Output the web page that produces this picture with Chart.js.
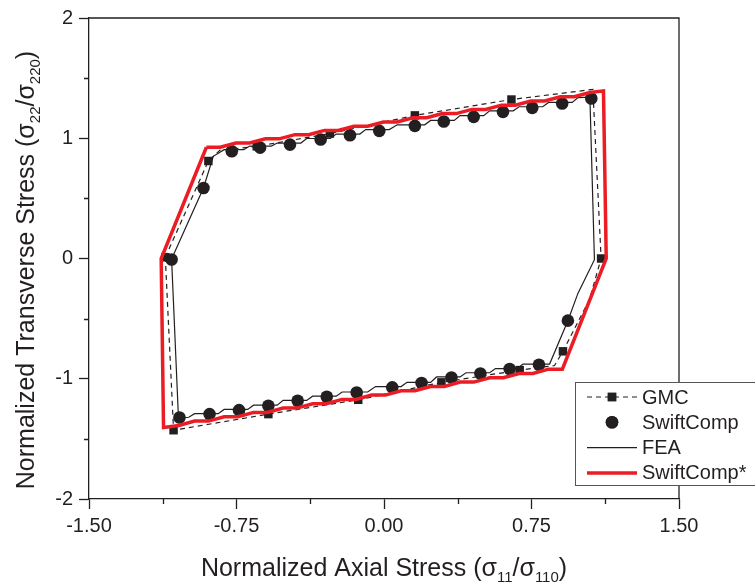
<!DOCTYPE html>
<html>
<head>
<meta charset="utf-8">
<script src="https://cdn.jsdelivr.net/npm/chart.js@4/dist/chart.umd.min.js"></script>
<style>
  html, body { margin: 0; padding: 0; background: #fff; }
  #wrap { width: 755px; height: 586px; }
</style>
</head>
<body>
<div id="wrap"><canvas id="c" width="755" height="586"></canvas></div>
<script>
// ---- Axis ticks ----
const xMajorTicks = [-1.5, -0.75, 0, 0.75, 1.5];
const xMinorTicks = [-1.125, -0.375, 0.375, 1.125];
const yMajorTicks = [-2, -1, 0, 1, 2];
const yMinorTicks = [-1.5, -0.5, 0.5, 1.5];

// ---- GMC: dashed loop (path) and its square markers ----
const gmcPathX = [-1.112, -0.893, -0.835, -0.647, -0.275, 0.157, 0.648, 1.062, 1.104, 1.045, 0.910, 0.867, 0.690, 0.292, -0.131, -0.588, -1.070, -1.112];
const gmcPathY = [0.010, 0.811, 0.900, 0.933, 1.039, 1.190, 1.322, 1.406, 0.000, -0.340, -0.772, -0.890, -0.928, -1.030, -1.175, -1.294, -1.428, 0.010];
const gmcMarkX = [-1.112, -0.893, -0.647, -0.275, 0.157, 0.648, 1.104, 0.910, 0.690, 0.292, -0.131, -0.588, -1.070];
const gmcMarkY = [0.010, 0.811, 0.933, 1.039, 1.190, 1.322, 0.000, -0.772, -0.928, -1.030, -1.175, -1.294, -1.428];

// ---- SwiftComp: filled circles ----
const swiftX = [-1.080, -0.918, -0.774, -0.630, -0.478, -0.322, -0.173, -0.024, 0.157, 0.304, 0.456, 0.605, 0.754, 0.906, 1.054,
                0.935, 0.788, 0.639, 0.490, 0.343, 0.191, 0.042, -0.139, -0.291, -0.439, -0.588, -0.737, -0.887, -1.040];
const swiftY = [-0.008, 0.586, 0.892, 0.922, 0.947, 0.989, 1.025, 1.061, 1.103, 1.139, 1.178, 1.219, 1.253, 1.289, 1.331,
                -0.517, -0.883, -0.919, -0.956, -0.989, -1.036, -1.072, -1.114, -1.150, -1.183, -1.225, -1.261, -1.294, -1.322];

// ---- FEA: thin solid stepped loop ----
const feaX = [-1.080, -0.918, -0.868, -0.813,
              -0.713, -0.683, -0.573, -0.543, -0.423, -0.393, -0.273, -0.243, -0.123, -0.093, 0.027, 0.067, 0.207, 0.237,
              0.357, 0.387, 0.507, 0.537, 0.657, 0.687, 0.807, 0.837, 0.957, 0.987, 1.047,
              1.070, 0.986, 0.935, 0.842,
              0.707, 0.677, 0.567, 0.537, 0.417, 0.387, 0.267, 0.237, 0.117, 0.087, -0.043, -0.083, -0.213, -0.243,
              -0.363, -0.393, -0.513, -0.543, -0.663, -0.693, -0.813, -0.843, -0.963, -0.993, -1.045, -1.080];
const feaY = [-0.005, 0.586, 0.850, 0.905,
              0.905, 0.935, 0.935, 0.960, 0.960, 0.998, 0.998, 1.035, 1.035, 1.072, 1.072, 1.112, 1.112, 1.148,
              1.148, 1.188, 1.188, 1.228, 1.228, 1.262, 1.262, 1.298, 1.298, 1.338, 1.342,
              -0.010, -0.290, -0.517, -0.878,
              -0.878, -0.915, -0.915, -0.950, -0.950, -0.985, -0.985, -1.030, -1.030, -1.065, -1.065, -1.110, -1.110, -1.145,
              -1.145, -1.180, -1.180, -1.220, -1.220, -1.255, -1.255, -1.290, -1.290, -1.320, -1.330, -0.005];

// ---- SwiftComp*: thick red stepped loop ----
const starX = [-0.903, -0.833, -0.753, -0.683, -0.603, -0.533, -0.453, -0.383, -0.303, -0.233, -0.153, -0.083, -0.003, 0.067,
               0.147, 0.217, 0.297, 0.367, 0.447, 0.517, 0.597, 0.667, 0.747, 0.817, 0.897, 0.967, 1.047, 1.116,
               1.130, 0.907,
               0.837, 0.757, 0.687, 0.607, 0.537, 0.457, 0.387, 0.307, 0.237, 0.157, 0.087, 0.007, -0.063, -0.143,
               -0.213, -0.293, -0.363, -0.443, -0.513, -0.593, -0.663, -0.743, -0.813, -0.893, -0.963, -1.043, -1.121,
               -1.133, -0.903];
const starY = [0.925, 0.925, 0.960, 0.960, 0.995, 0.995, 1.030, 1.030, 1.065, 1.065, 1.100, 1.100, 1.135, 1.135,
               1.170, 1.170, 1.205, 1.205, 1.240, 1.240, 1.275, 1.275, 1.310, 1.310, 1.345, 1.345, 1.380, 1.394,
               0.000, -0.920,
               -0.920, -0.956, -0.956, -0.992, -0.992, -1.028, -1.028, -1.064, -1.064, -1.100, -1.100, -1.136, -1.136, -1.172,
               -1.172, -1.208, -1.208, -1.244, -1.244, -1.280, -1.280, -1.316, -1.316, -1.352, -1.352, -1.388, -1.405,
               0.000, 0.925];

const pts = (xs, ys) => xs.map((x, i) => ({ x: x, y: ys[i] }));

const INK = '#231f20';
const RED = '#ec1c24';
const FONT = '"Liberation Sans", Arial, Helvetica, sans-serif';

// Top and right edges of the plot frame
const framePlugin = {
  id: 'frame',
  beforeDatasetsDraw(chart) {
    const { ctx, chartArea: a } = chart;
    ctx.save();
    ctx.strokeStyle = INK;
    ctx.lineWidth = 1.3;
    ctx.beginPath();
    ctx.moveTo(a.left, a.top);
    ctx.lineTo(a.right, a.top);
    ctx.lineTo(a.right, a.bottom);
    ctx.stroke();
    ctx.restore();
  }
};

// Short outward minor ticks
const minorTickPlugin = {
  id: 'minorTicks',
  afterDraw(chart) {
    const { ctx, chartArea: a, scales } = chart;
    ctx.save();
    ctx.strokeStyle = INK;
    ctx.lineWidth = 1.3;
    ctx.beginPath();
    xMinorTicks.forEach(v => {
      const px = Math.round(scales.x.getPixelForValue(v)) + 0.5;
      ctx.moveTo(px, a.bottom);
      ctx.lineTo(px, a.bottom + 5);
    });
    yMinorTicks.forEach(v => {
      const py = Math.round(scales.y.getPixelForValue(v)) + 0.5;
      ctx.moveTo(a.left, py);
      ctx.lineTo(a.left - 5, py);
    });
    ctx.stroke();
    ctx.restore();
  }
};

// Draws a run of text pieces where some pieces are subscripts
function richWidth(ctx, parts, size) {
  let w = 0;
  parts.forEach(p => {
    ctx.font = (p.sub ? Math.round(size * 0.6) : size) + 'px ' + FONT;
    w += ctx.measureText(p.t).width;
  });
  return w;
}
function drawRich(ctx, parts, x, y, size) {
  parts.forEach(p => {
    ctx.font = (p.sub ? Math.round(size * 0.6) : size) + 'px ' + FONT;
    ctx.fillText(p.t, x, p.sub ? y + size * 0.22 : y);
    x += ctx.measureText(p.t).width;
  });
}

const xTitle = [
  { t: 'Normalized Axial Stress (σ' }, { t: '11', sub: true },
  { t: '/σ' }, { t: '110', sub: true }, { t: ')' }
];
const yTitle = [
  { t: 'Normalized Transverse Stress (σ' }, { t: '22', sub: true },
  { t: '/σ' }, { t: '220', sub: true }, { t: ')' }
];

const titlePlugin = {
  id: 'axisTitles',
  afterDraw(chart) {
    const { ctx, chartArea: a } = chart;
    const size = 25;
    ctx.save();
    ctx.fillStyle = INK;
    ctx.textBaseline = 'alphabetic';
    ctx.textAlign = 'left';
    const wx = richWidth(ctx, xTitle, size);
    drawRich(ctx, xTitle, (a.left + a.right) / 2 - wx / 2, 576, size);
    const wy = richWidth(ctx, yTitle, size);
    ctx.translate(34, 270 + wy / 2);
    ctx.rotate(-Math.PI / 2);
    drawRich(ctx, yTitle, 0, 0, size);
    ctx.restore();
  }
};

// Boxed legend in the lower right, using each dataset's own style
const legendPlugin = {
  id: 'boxLegend',
  afterDraw(chart) {
    const { ctx } = chart;
    const ds = chart.data.datasets;
    const bx = 575, by = 382, bw = 200, bh = 103;
    ctx.save();
    ctx.fillStyle = '#ffffff';
    ctx.fillRect(bx, by, bw, bh);
    ctx.strokeStyle = '#555555';
    ctx.lineWidth = 1;
    ctx.strokeRect(bx + 0.5, by + 0.5, bw, bh);

    const rows = [
      { label: 'GMC', line: ds[3], marker: ds[2] },
      { label: 'SwiftComp', marker: ds[1] },
      { label: 'FEA', line: ds[4] },
      { label: 'SwiftComp*', line: ds[0] }
    ];
    const x0 = 587, x1 = 637, cx = 612;
    rows.forEach((r, i) => {
      const y = 397 + i * 25.3;
      if (r.line) {
        ctx.save();
        ctx.strokeStyle = r.line.borderColor;
        ctx.lineWidth = r.line.borderWidth;
        ctx.setLineDash(r.line.borderDash || []);
        ctx.beginPath();
        ctx.moveTo(x0, y);
        ctx.lineTo(x1, y);
        ctx.stroke();
        ctx.restore();
      }
      if (r.marker) {
        ctx.save();
        ctx.fillStyle = r.marker.backgroundColor;
        Chart.helpers.drawPoint(ctx, {
          pointStyle: r.marker.pointStyle,
          radius: r.marker.pointRadius,
          borderWidth: 0,
          rotation: 0
        }, cx, y);
        ctx.fill();
        ctx.restore();
      }
      ctx.fillStyle = INK;
      ctx.font = '20px ' + FONT;
      ctx.textBaseline = 'middle';
      ctx.textAlign = 'left';
      ctx.fillText(r.label, 642, y + 1);
    });
    ctx.restore();
  }
};

new Chart(document.getElementById('c'), {
  type: 'scatter',
  data: {
    datasets: [
      {
        label: 'SwiftComp*',
        data: pts(starX, starY),
        showLine: true,
        borderColor: RED,
        borderWidth: 3.5,
        pointRadius: 0,
        borderJoinStyle: 'miter',
        order: 0
      },
      {
        label: 'SwiftComp',
        data: pts(swiftX, swiftY),
        showLine: false,
        pointStyle: 'circle',
        pointRadius: 6.3,
        pointBorderWidth: 0,
        backgroundColor: INK,
        borderColor: INK,
        order: 1
      },
      {
        label: 'GMC markers',
        data: pts(gmcMarkX, gmcMarkY),
        showLine: false,
        pointStyle: 'rect',
        pointRadius: 6,
        pointBorderWidth: 0,
        backgroundColor: INK,
        borderColor: INK,
        order: 2
      },
      {
        label: 'GMC',
        data: pts(gmcPathX, gmcPathY),
        showLine: true,
        borderColor: INK,
        borderWidth: 1.2,
        borderDash: [5, 4],
        pointRadius: 0,
        order: 3
      },
      {
        label: 'FEA',
        data: pts(feaX, feaY),
        showLine: true,
        borderColor: INK,
        borderWidth: 1.2,
        pointRadius: 0,
        order: 4
      }
    ]
  },
  options: {
    responsive: false,
    animation: false,
    devicePixelRatio: 1,
    layout: { padding: { top: 18, right: 76, left: 0, bottom: 0 } },
    plugins: {
      legend: { display: false },
      tooltip: { enabled: false }
    },
    scales: {
      x: {
        type: 'linear',
        min: -1.5,
        max: 1.5,
        afterFit(scale) { scale.height = 87; },
        afterBuildTicks(scale) { scale.ticks = xMajorTicks.map(v => ({ value: v })); },
        ticks: {
          color: INK,
          font: { family: FONT, size: 20 },
          padding: 5,
          maxRotation: 0,
          callback: v => Number(v).toFixed(2)
        },
        grid: { drawOnChartArea: false, tickLength: 10, tickWidth: 1.3, tickColor: INK },
        border: { display: true, color: INK, width: 1.3 }
      },
      y: {
        type: 'linear',
        min: -2,
        max: 2,
        afterFit(scale) { scale.width = 89; },
        afterBuildTicks(scale) { scale.ticks = yMajorTicks.map(v => ({ value: v })); },
        ticks: {
          color: INK,
          font: { family: FONT, size: 20 },
          padding: 6,
          callback: v => String(v)
        },
        grid: { drawOnChartArea: false, tickLength: 10, tickWidth: 1.3, tickColor: INK },
        border: { display: true, color: INK, width: 1.3 }
      }
    }
  },
  plugins: [framePlugin, minorTickPlugin, titlePlugin, legendPlugin]
});
</script>
</body>
</html>
